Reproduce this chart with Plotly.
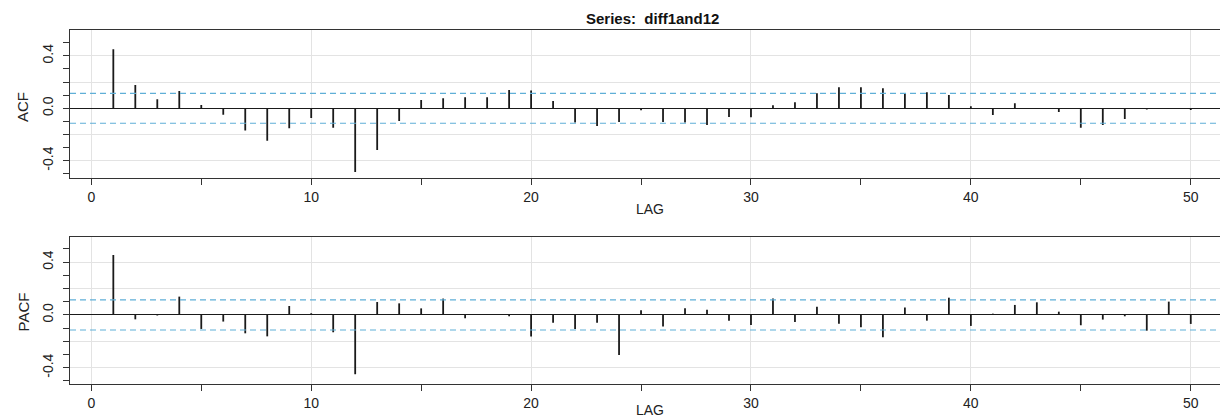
import plotly.graph_objects as go

lags = list(range(1, 51))
acf_vals = [0.45, 0.178, 0.069, 0.132, 0.025, -0.05, -0.17, -0.247, -0.153, -0.074,
            -0.148, -0.486, -0.318, -0.097, 0.064, 0.076, 0.084, 0.084, 0.14, 0.135,
            0.056, -0.109, -0.135, -0.104, -0.015, -0.104, -0.109, -0.127, -0.066, -0.069,
            0.023, 0.046, 0.115, 0.16, 0.16, 0.153, 0.117, 0.122, 0.102, 0.015,
            -0.051, 0.038, -0.005, -0.028, -0.148, -0.127, -0.081, -0.01, -0.005, -0.013]
pacf_vals = [0.455, -0.033, -0.004, 0.139, -0.106, -0.05, -0.139, -0.162, 0.068, 0.013,
             -0.131, -0.449, 0.098, 0.088, 0.05, 0.124, -0.025, 0.003, -0.01, -0.164,
             -0.058, -0.106, -0.058, -0.303, 0.035, -0.088, 0.05, 0.04, -0.043, -0.076,
             0.124, -0.053, 0.063, -0.066, -0.093, -0.169, 0.056, -0.043, 0.131, -0.083,
             0.01, 0.076, 0.096, 0.025, -0.078, -0.035, -0.01, -0.119, 0.101, -0.068]
conf_limit = 0.114
x_tick_vals = [0, 10, 20, 30, 40, 50]
x_tick_text = ["0", "10", "20", "30", "40", "50"]
y_tick_vals = [-0.4, -0.2, 0.0, 0.2, 0.4]
y_tick_text = ["-0.4", "", "0.0", "", "0.4"]
title_text = "Series:  diff1and12"

FONT = "Liberation Sans, Arial, sans-serif"
W, H = 1220, 419


def stems(xs, ys):
    sx, sy = [], []
    for x, y in zip(xs, ys):
        sx += [x, x, None]
        sy += [0, y, None]
    return sx, sy


fig = go.Figure()
for vals, xa, ya in [(acf_vals, "x", "y"), (pacf_vals, "x2", "y2")]:
    sx, sy = stems(lags, vals)
    fig.add_trace(go.Scatter(x=sx, y=sy, mode="lines", xaxis=xa, yaxis=ya,
                             line=dict(color="#1a1a1a", width=1.8),
                             hoverinfo="skip", showlegend=False))
    for c in (conf_limit, -conf_limit):
        fig.add_trace(go.Scatter(x=[-0.97, 51.33], y=[c, c], mode="lines",
                                 xaxis=xa, yaxis=ya,
                                 line=dict(color="rgb(95,175,215)", width=1.1, dash="6px,4px"),
                                 hoverinfo="skip", showlegend=False))

xcommon = dict(range=[-0.97, 51.33], domain=[70 / W, 1.0],
               tickmode="array", tickvals=x_tick_vals, ticktext=x_tick_text,
               ticks="outside", ticklen=6, tickcolor="#333",
               minor=dict(tickmode="linear", tick0=0, dtick=5, ticks="outside",
                          ticklen=6, tickcolor="#333", showgrid=False),
               showgrid=True, gridcolor="#e3e3e3", gridwidth=1,
               zeroline=False, showline=True, linecolor="#333", linewidth=1,
               mirror=True,
               tickfont=dict(family=FONT, size=14, color="#222"))
ycommon = dict(tickmode="array", tickvals=y_tick_vals, ticktext=y_tick_text,
               ticks="outside", ticklen=6, tickcolor="#333", tickangle=-90,
               minor=dict(tickmode="linear", tick0=0, dtick=0.1, ticks="outside",
                          ticklen=6, tickcolor="#333", showgrid=False),
               showgrid=True, gridcolor="#e3e3e3", gridwidth=1,
               zeroline=True, zerolinecolor="#1a1a1a", zerolinewidth=1,
               showline=True, linecolor="#333", linewidth=1,
               ticklabelstandoff=4,
               tickfont=dict(family=FONT, size=14, color="#222"))

ann = dict(xref="paper", yref="paper", showarrow=False, xanchor="center", yanchor="middle")
fig.update_layout(
    width=W, height=H,
    margin=dict(l=0, r=0, t=0, b=0),
    paper_bgcolor="white", plot_bgcolor="white",
    xaxis=dict(**xcommon, anchor="y"),
    yaxis=dict(**ycommon, range=[-0.534, 0.595],
               domain=[1 - 178.3 / H, 1 - 30.3 / H], anchor="x"),
    xaxis2=dict(**xcommon, anchor="y2"),
    yaxis2=dict(**ycommon, range=[-0.523, 0.593],
                domain=[1 - 384 / H, 1 - 236.7 / H], anchor="x2"),
    annotations=[
        dict(text="<b>" + title_text + "</b>", x=652 / W, y=1 - 19 / H, **ann,
             font=dict(family=FONT, size=15, color="#111")),
        dict(text="LAG", x=650 / W, y=1 - 208.7 / H, **ann,
             font=dict(family=FONT, size=14, color="#222")),
        dict(text="LAG", x=650 / W, y=1 - 409.5 / H, **ann,
             font=dict(family=FONT, size=14, color="#222")),
        dict(text="ACF", x=23 / W, y=1 - 107 / H, textangle=-90, **ann,
             font=dict(family=FONT, size=15, color="#222")),
        dict(text="PACF", x=23 / W, y=1 - 312.5 / H, textangle=-90, **ann,
             font=dict(family=FONT, size=15, color="#222")),
    ],
)

fig.write_html("out.html")
